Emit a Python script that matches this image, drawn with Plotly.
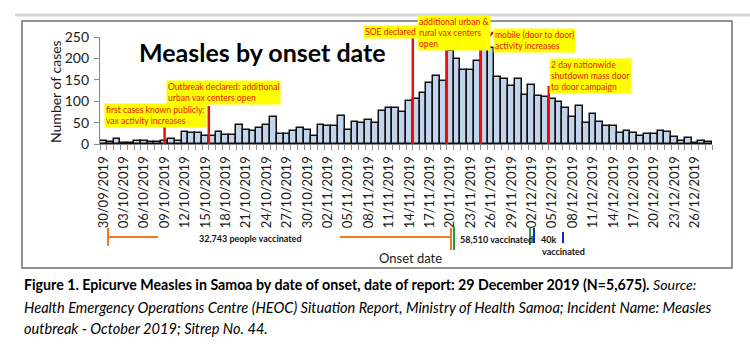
import plotly.graph_objects as go
import pandas as pd

# ---- data ----
dates = list(pd.date_range("2019-09-30", "2019-12-28").strftime("%d/%m/%Y"))
cases = [6, 4, 11, 3, 3, 6, 8, 4, 5, 6, 12, 8, 27, 25, 25, 19, 19, 27, 20, 20, 45, 33, 30,
         38, 44, 62, 23, 23, 30, 38, 33, 19, 44, 41, 43, 65, 33, 51, 50, 57, 48, 78, 83, 83, 75, 100,
         106, 120, 143, 160, 148, 218, 199, 174, 174, 194, 222, 225, 157, 151, 135, 151, 114, 139, 111, 110,
         104, 99, 83, 64, 88, 48, 69, 51, 43, 43, 26, 30, 25, 19, 24, 24, 30, 27, 16, 8, 14, 3, 8, 4]
tick_idx = list(range(0, len(dates), 3))
tick_labels = [dates[i] for i in tick_idx]

event_x = [9, 15.5, 45.5, 50.5, 55.5, 65.5]          # position of red event lines (day index)
event_top_px = [127, 106, 35, 47, 37, 86]           # top of each line (pixels)
event_texts = ["first cases known publicly:<br>vax activity increases",
               "Outbreak declared: additional<br>urban vax centers open",
               "SOE declared",
               "additional urban &<br>rural vax centers<br>open",
               "mobile (door to door)<br>activity increases",
               "2 day nationwide<br>shutdown mass door<br>to door campaign"]
event_box_px = [(104, 103), (166, 80), (363, 25), (417, 15), (493, 28), (549, 58)]

# ---- geometry helpers (pixel -> paper) ----
W, H = 750, 347
L, R, T, B = 100, 38, 37, 203
PW, PH = W - L - R, H - T - B
def px(x):
    return (x - L) / PW
def py(y):
    return (H - B - y) / PH

FONT = "Lato"
RED = "#e8120c"
YEL = "#ffff00"

fig = go.Figure()
fig.add_trace(go.Bar(x=list(range(len(cases))), y=cases,
                     marker=dict(color="#c3d5ec", line=dict(color="#111111", width=1.5)),
                     width=1.0))

shapes = []
# outer frame
shapes.append(dict(type="rect", xref="paper", yref="paper", x0=px(22), x1=px(732), y0=py(21), y1=py(268),
                   line=dict(color="#6f6f6f", width=1.5), layer="below"))
shapes.append(dict(type="line", xref="paper", yref="paper", x0=px(15), x1=px(750), y0=py(15), y1=py(15),
                   line=dict(color="#d4d4d4", width=3), layer="below"))
# red event lines
for ex, top in zip(event_x, event_top_px):
    shapes.append(dict(type="line", xref="x", yref="paper", x0=ex, x1=ex, y0=0, y1=py(top),
                       line=dict(color=RED, width=2.5)))
# connector for mobile box
shapes.append(dict(type="line", xref="x", yref="paper", x0=event_x[4], x1=event_x[4] + 1.3,
                   y0=py(37), y1=py(36), line=dict(color=RED, width=2.5)))
shapes.append(dict(type="line", xref="x", yref="paper", x0=event_x[4] + 1.3, x1=event_x[4] + 1.8,
                   y0=py(36), y1=py(32), line=dict(color=RED, width=2.5)))

ORANGE, GREEN, BLUE = "#f07a22", "#1f9e45", "#1a2ab8"
def seg(x0, y0, x1, y1, c, w=2):
    shapes.append(dict(type="line", xref="paper", yref="paper", x0=px(x0), x1=px(x1), y0=py(y0), y1=py(y1),
                       line=dict(color=c, width=w)))
seg(108, 228, 108, 246, ORANGE)
seg(108, 237, 158, 237, ORANGE)
seg(340, 237, 451, 237, ORANGE)
seg(451, 228, 451, 250, ORANGE)
seg(454, 227, 454, 250, GREEN)
seg(530, 227, 530, 245, GREEN)
seg(534, 228, 534, 243, BLUE)
seg(563, 232, 563, 243, BLUE)

annotations = []
for txt, (bx, by) in zip(event_texts, event_box_px):
    annotations.append(dict(text=txt, xref="paper", yref="paper", x=px(bx), y=py(by),
                            xanchor="left", yanchor="top", align="left", showarrow=False,
                            bgcolor=YEL, borderpad=1,
                            font=dict(family=FONT, size=8.6, color=RED)))
annotations.append(dict(text="<b>Measles by onset date</b>", xref="paper", yref="paper",
                        x=px(137), y=py(52), xanchor="left", yanchor="middle", showarrow=False,
                        font=dict(family=FONT, size=25, color="#000000")))
annotations.append(dict(text="Number of cases", xref="paper", yref="paper", x=px(55), y=py(92),
                        textangle=-90, xanchor="center", yanchor="middle", showarrow=False,
                        font=dict(family=FONT, size=14, color="#1a1a1a")))
annotations.append(dict(text="Onset date", xref="paper", yref="paper", x=px(410), y=py(258),
                        xanchor="center", yanchor="middle", showarrow=False,
                        font=dict(family=FONT, size=13, color="#1a1a1a")))
small = dict(family=FONT, size=9, color="#111111")
annotations.append(dict(text="<b>32,743 people vaccinated</b>", xref="paper", yref="paper", x=px(250), y=py(238),
                        xanchor="center", yanchor="middle", showarrow=False, font=small))
annotations.append(dict(text="<b>58,510 vaccinated</b>", xref="paper", yref="paper", x=px(458), y=py(239),
                        xanchor="left", yanchor="middle", showarrow=False, font=small))
annotations.append(dict(text="<b>40k</b>", xref="paper", yref="paper", x=px(539), y=py(239),
                        xanchor="left", yanchor="middle", showarrow=False, font=small))
annotations.append(dict(text="<b>vaccinated</b>", xref="paper", yref="paper", x=px(540), y=py(251),
                        xanchor="left", yanchor="middle", showarrow=False, font=small))
cap1 = dict(family=FONT, size=14.2, color="#000000")
cap2 = dict(family=FONT, size=14.6, color="#000000")
annotations.append(dict(text="<b>Figure 1. Epicurve Measles in Samoa by date of onset, date of report: 29 December 2019 (N=5,675).</b> <i>Source:</i>",
                        xref="paper", yref="paper", x=px(22), y=py(284), xanchor="left", yanchor="middle",
                        showarrow=False, font=cap1))
annotations.append(dict(text="<i>Health Emergency Operations Centre (HEOC) Situation Report, Ministry of Health Samoa; Incident Name: Measles</i>",
                        xref="paper", yref="paper", x=px(22), y=py(307), xanchor="left", yanchor="middle",
                        showarrow=False, font=cap2))
annotations.append(dict(text="<i>outbreak - October 2019; Sitrep No. 44.</i>",
                        xref="paper", yref="paper", x=px(22), y=py(328), xanchor="left", yanchor="middle",
                        showarrow=False, font=cap2))

fig.update_layout(
    width=W, height=H, margin=dict(l=L, r=R, t=T, b=B),
    paper_bgcolor="white", plot_bgcolor="white",
    bargap=0, showlegend=False,
    shapes=shapes, annotations=annotations,
    xaxis=dict(range=[-0.5, len(cases) - 0.5], tickmode="array", tickvals=tick_idx, ticktext=tick_labels,
               tickangle=-90, ticks="", ticklabelstandoff=6, showgrid=False, zeroline=False,
               showline=True, linecolor="#8a8a8a", linewidth=1.2,
               tickfont=dict(family=FONT, size=13, color="#1a1a1a"),
               minor=dict(tickmode="array", tickvals=[k - 0.5 for k in range(len(cases) + 1)],
                          ticks="outside", ticklen=5, tickcolor="#8a8a8a", tickwidth=1, showgrid=False)),
    yaxis=dict(range=[0, 250], tickmode="array", tickvals=[0, 50, 100, 150, 200, 250],
               ticks="outside", ticklen=5, tickcolor="#8a8a8a", showgrid=False, zeroline=False,
               showline=True, linecolor="#8a8a8a", linewidth=1.2, ticklabelstandoff=2,
               tickfont=dict(family=FONT, size=14, color="#1a1a1a")),
)

fig.write_html("out.html")
